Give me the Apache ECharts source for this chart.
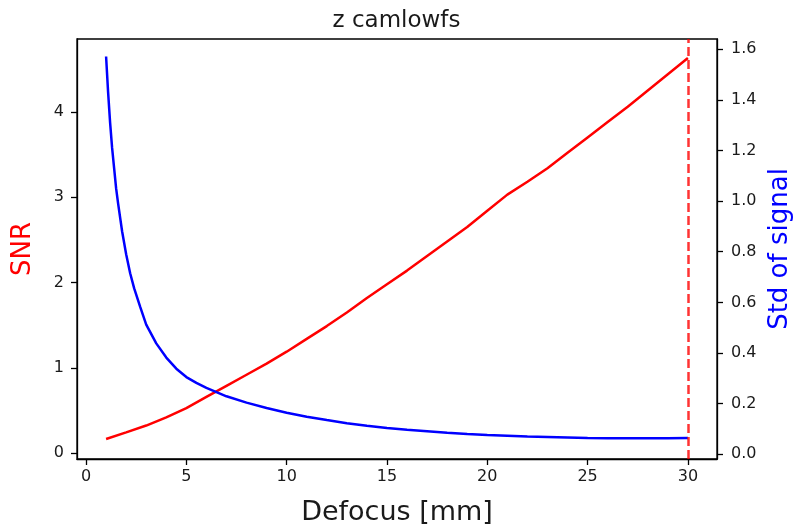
<!DOCTYPE html>
<html>
<head>
<meta charset="utf-8">
<script src="https://cdn.jsdelivr.net/npm/echarts@6/dist/echarts.min.js"></script>
<style>
  html, body { margin: 0; padding: 0; background: #ffffff; }
  #chart { width: 793px; height: 526px; }
</style>
</head>
<body>
<div id="chart"></div>
<script>
// Defocus positions (mm) and the SNR measured at each
const defocus = [1, 2, 3, 4, 5, 6, 7, 8, 9, 10, 11, 12, 13, 14, 15, 16, 17, 18, 19, 20,
                 21, 22, 23, 24, 25, 26, 27, 28, 29, 30];
const snr = [0.168, 0.245, 0.325, 0.42, 0.53, 0.66, 0.79, 0.92, 1.05, 1.19,
             1.34, 1.49, 1.65, 1.82, 1.98, 2.14, 2.31, 2.48, 2.65, 2.84,
             3.03, 3.18, 3.34, 3.52, 3.70, 3.88, 4.06, 4.25, 4.44, 4.63];

// Finer defocus grid for the standard deviation of the signal
const defocusStd = [1, 1.1, 1.2, 1.3, 1.4, 1.5, 1.6, 1.8, 2, 2.2, 2.4, 2.7, 3, 3.5, 4, 4.5,
                    5, 5.5, 6, 7, 8, 9, 10, 11, 12, 13, 14, 15, 16, 17, 18, 19, 20,
                    21, 22, 23, 24, 25, 26, 27, 28, 29, 30];
const stdSignal = [1.571, 1.43, 1.31, 1.21, 1.13, 1.05, 0.99, 0.88, 0.79, 0.715, 0.655,
                   0.582, 0.512, 0.438, 0.382, 0.338, 0.305, 0.282, 0.262, 0.229, 0.204,
                   0.183, 0.164, 0.148, 0.135, 0.123, 0.113, 0.104, 0.097, 0.091, 0.085,
                   0.080, 0.076, 0.073, 0.070, 0.068, 0.066, 0.064, 0.063, 0.063, 0.063,
                   0.063, 0.064];

// Tick positions
const xTicks = [0, 5, 10, 15, 20, 25, 30];
const snrTicks = [0, 1, 2, 3, 4];
const stdTicks = [0, 0.2, 0.4, 0.6, 0.8, 1.0, 1.2, 1.4, 1.6];

// Position of the vertical marker
const markerDefocus = 30;

const FONT = 'DejaVu Sans';
const INK = '#1a1a1a';

const lineOf = () => ({ show: true, onZero: false, lineStyle: { color: '#000', width: 1.3 } });
const tickStyle = (vals) => ({ show: true, inside: false, length: 6, customValues: vals,
                               lineStyle: { color: '#000', width: 1.3 } });

const chart = echarts.init(document.getElementById('chart'), null, { renderer: 'canvas' });

chart.setOption({
  animation: false,
  backgroundColor: '#ffffff',
  title: {
    text: 'z camlowfs',
    left: 'center',
    top: 5,
    textStyle: { fontFamily: FONT, fontSize: 23, fontWeight: 'normal', color: INK }
  },
  grid: {
    left: 77, right: 76, top: 39, bottom: 67,
    containLabel: false,
    outerBoundsMode: 'none',
    show: true, borderColor: '#000', borderWidth: 1.3, backgroundColor: 'transparent'
  },
  xAxis: {
    type: 'value',
    min: -0.45, max: 31.45,
    name: 'Defocus [mm]',
    nameLocation: 'middle',
    nameGap: 40,
    nameTextStyle: { fontFamily: FONT, fontSize: 27, color: INK },
    axisLine: lineOf(),
    axisTick: tickStyle(xTicks),
    axisLabel: { customValues: xTicks, margin: 10, fontFamily: FONT, fontSize: 16, color: INK },
    splitLine: { show: false }
  },
  yAxis: [
    {
      type: 'value',
      position: 'left',
      min: -0.067, max: 4.853,
      name: 'SNR',
      nameLocation: 'middle',
      nameRotate: 90,
      nameGap: 41,
      nameTextStyle: { fontFamily: FONT, fontSize: 26, color: '#ff0000' },
      axisLine: lineOf(),
      axisTick: tickStyle(snrTicks),
      axisLabel: { customValues: snrTicks, margin: 13, fontFamily: FONT, fontSize: 16, color: INK },
      splitLine: { show: false }
    },
    {
      type: 'value',
      position: 'right',
      min: -0.0186, max: 1.64,
      name: 'Std of signal',
      nameLocation: 'middle',
      nameRotate: 90,
      nameGap: 48,
      nameTextStyle: { fontFamily: FONT, fontSize: 26, color: '#0000ff' },
      axisLine: lineOf(),
      axisTick: tickStyle(stdTicks),
      axisLabel: {
        customValues: stdTicks, margin: 14, fontFamily: FONT, fontSize: 16, color: INK,
        formatter: (v) => v.toFixed(1)
      },
      splitLine: { show: false }
    }
  ],
  series: [
    {
      name: 'SNR',
      type: 'line',
      yAxisIndex: 0,
      data: defocus.map((d, i) => [d, snr[i]]),
      symbol: 'none',
      lineStyle: { color: '#ff0000', width: 2.5 },
      itemStyle: { color: '#ff0000' },
      markLine: {
        silent: true,
        symbol: ['none', 'none'],
        label: { show: false },
        lineStyle: { color: 'rgba(255,0,0,0.8)', width: 2.5, type: [9, 4] },
        data: [{ xAxis: markerDefocus }]
      },
      z: 2
    },
    {
      name: 'Std of signal',
      type: 'line',
      yAxisIndex: 1,
      data: defocusStd.map((d, i) => [d, stdSignal[i]]),
      symbol: 'none',
      lineStyle: { color: '#0000ff', width: 2.5 },
      itemStyle: { color: '#0000ff' },
      z: 3
    }
  ]
});
</script>
</body>
</html>
